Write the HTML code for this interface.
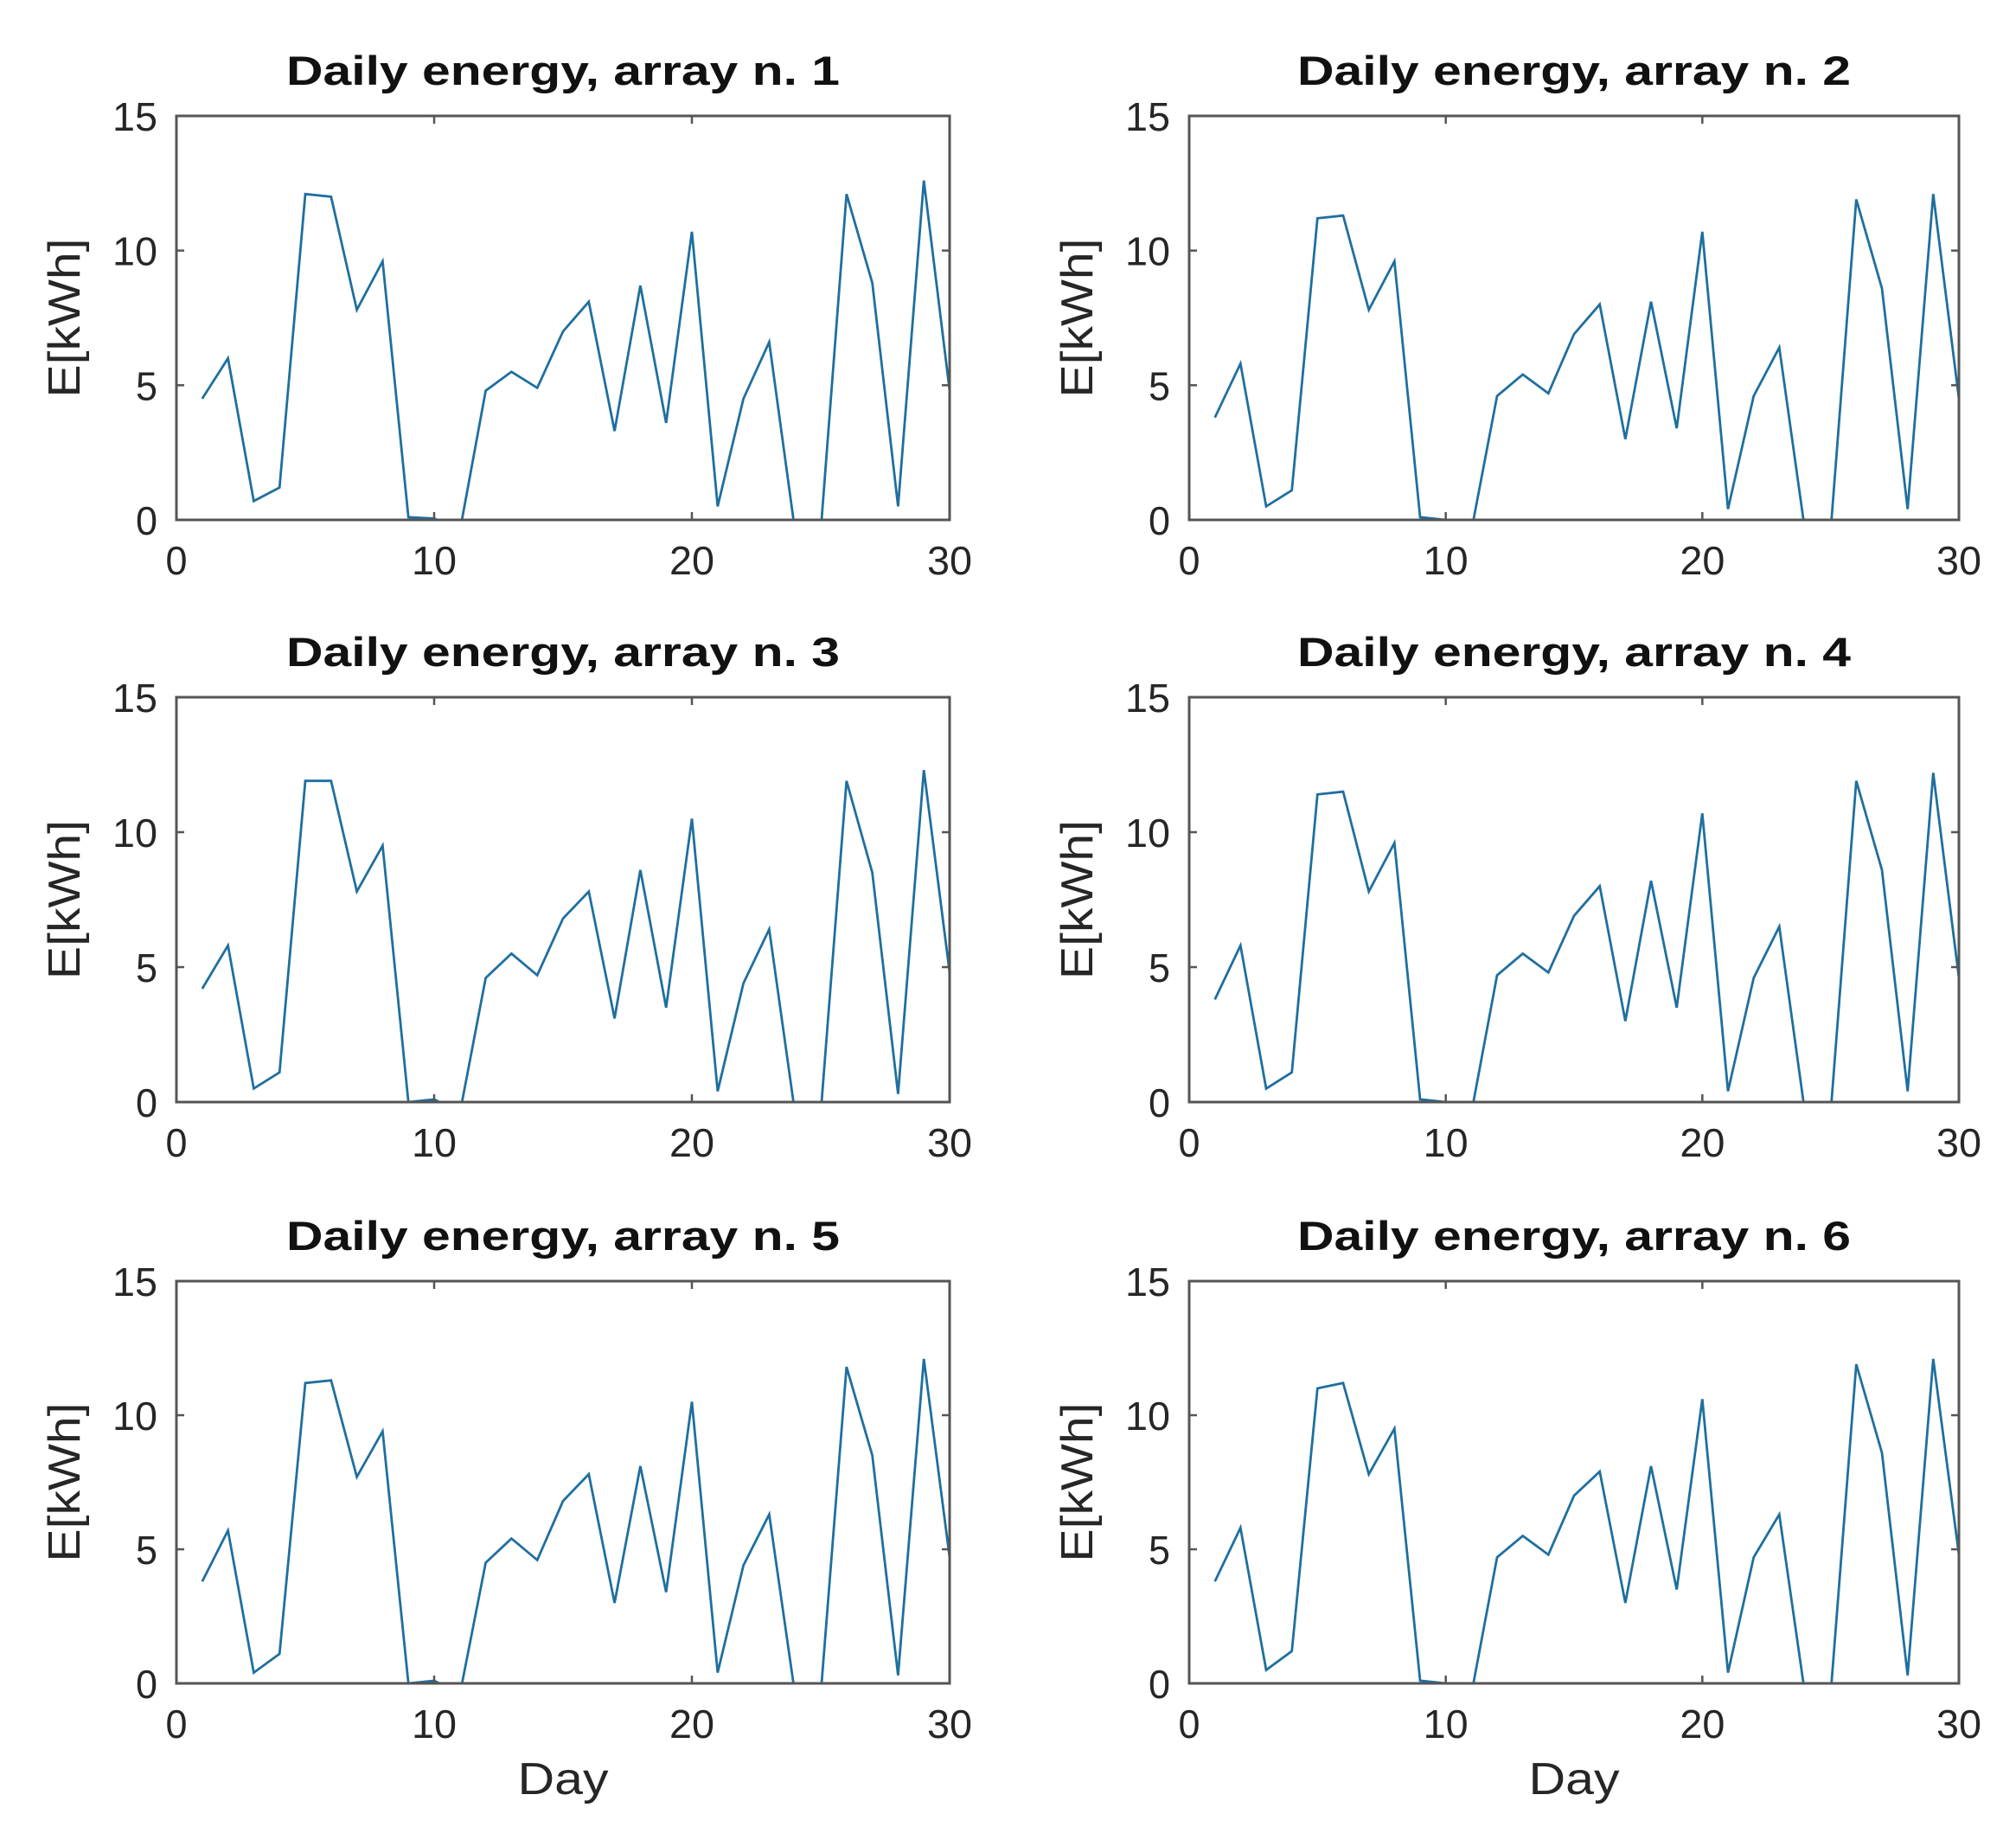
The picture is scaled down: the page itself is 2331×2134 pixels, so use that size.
<!DOCTYPE html>
<html><head><meta charset="utf-8"><style>
html,body{margin:0;padding:0;background:#fff;}
svg{display:block;}
text{font-family:"Liberation Sans",Arial,sans-serif;fill:#262626;}
</style></head><body>
<svg id="s" width="2331" height="2134" viewBox="0 0 2331 2134" xmlns="http://www.w3.org/2000/svg"></svg>
<script>
const D=[
[4.5,6,0.7,1.2,12.1,12,7.8,9.6,0.1,0.05,-0.4,4.8,5.5,4.9,7,8.1,3.3,8.7,3.6,10.7,0.5,4.5,6.6,-0.4,-0.4,12.1,8.8,0.5,12.6,4.8],
[3.8,5.8,0.5,1.1,11.2,11.3,7.8,9.6,0.1,0.0,-0.4,4.6,5.4,4.7,6.9,8,3,8.1,3.4,10.7,0.4,4.6,6.4,-0.4,-0.4,11.9,8.6,0.4,12.1,4.5],
[4.2,5.8,0.5,1.1,11.9,11.9,7.8,9.5,0.0,0.1,-0.4,4.6,5.5,4.7,6.8,7.8,3.1,8.6,3.5,10.5,0.4,4.4,6.4,-0.4,-0.4,11.9,8.5,0.3,12.3,4.8],
[3.8,5.8,0.5,1.1,11.4,11.5,7.8,9.6,0.1,0.0,-0.4,4.7,5.5,4.8,6.9,8,3,8.2,3.5,10.7,0.4,4.6,6.5,-0.4,-0.4,11.9,8.6,0.4,12.2,4.6],
[3.8,5.7,0.4,1.1,11.2,11.3,7.7,9.4,0.0,0.1,-0.4,4.5,5.4,4.6,6.8,7.8,3,8.1,3.4,10.5,0.4,4.4,6.3,-0.4,-0.4,11.8,8.5,0.3,12.1,4.7],
[3.8,5.8,0.5,1.2,11,11.2,7.8,9.5,0.1,0.0,-0.4,4.7,5.5,4.8,7,7.9,3,8.1,3.5,10.6,0.4,4.7,6.3,-0.4,-0.4,11.9,8.6,0.3,12.1,4.8]];
const cols=[[204,1098],[1375,2265]];
const rows=[[134,601],[806,1274],[1481,1946]];
let h='';
for(let i=0;i<6;i++){
 const [L,R]=cols[i%2],[T,B]=rows[Math.floor(i/2)];
 const X=v=>L+(R-L)*v/30, Y=v=>B-(B-T)*v/15;
 const cx=(L+R)/2;
 h+=`<defs><clipPath id="c${i}"><rect x="${L}" y="${T}" width="${R-L}" height="${B-T}"/></clipPath></defs>`;
 h+=`<text x="${cx}" y="${T-36}" text-anchor="middle" font-weight="bold" font-size="47" textLength="640" lengthAdjust="spacingAndGlyphs" style="fill:#111">Daily energy, array n. ${i+1}</text>`;
 let p=D[i].map((v,k)=>`${X(k+1).toFixed(1)},${Y(v).toFixed(1)}`).join(' ');
 h+=`<polyline points="${p}" fill="none" stroke="#1f6f9f" stroke-width="2.8" clip-path="url(#c${i})"/>`;
 h+=`<rect x="${L}" y="${T}" width="${R-L}" height="${B-T}" fill="none" stroke="#555" stroke-width="3"/>`;
 for(const t of [0,10,20,30]){const x=X(t);
  h+=`<line x1="${x}" y1="${B}" x2="${x}" y2="${B-9}" stroke="#555" stroke-width="2.5"/><line x1="${x}" y1="${T}" x2="${x}" y2="${T+9}" stroke="#555" stroke-width="2.5"/>`;
  h+=`<text x="${x}" y="${B+63}" text-anchor="middle" font-size="46" textLength="${t?52:25}" lengthAdjust="spacingAndGlyphs">${t}</text>`;}
 for(const t of [0,5,10,15]){const y=Y(t);
  h+=`<line x1="${L}" y1="${y}" x2="${L+9}" y2="${y}" stroke="#555" stroke-width="2.5"/><line x1="${R}" y1="${y}" x2="${R-9}" y2="${y}" stroke="#555" stroke-width="2.5"/>`;
  h+=`<text x="${L-22}" y="${y+17}" text-anchor="end" font-size="46" textLength="${t>=10?52:25}" lengthAdjust="spacingAndGlyphs">${t}</text>`;}
 const yc=(T+B)/2, lx=L-112;
 h+=`<text transform="translate(${lx},${yc}) rotate(-90)" text-anchor="middle" font-size="52" textLength="184" lengthAdjust="spacingAndGlyphs">E[kWh]</text>`;
 if(i>=4) h+=`<text x="${cx}" y="${B+128}" text-anchor="middle" font-size="52" textLength="105" lengthAdjust="spacingAndGlyphs">Day</text>`;
}
document.getElementById('s').innerHTML=h;
</script>
</body></html>
